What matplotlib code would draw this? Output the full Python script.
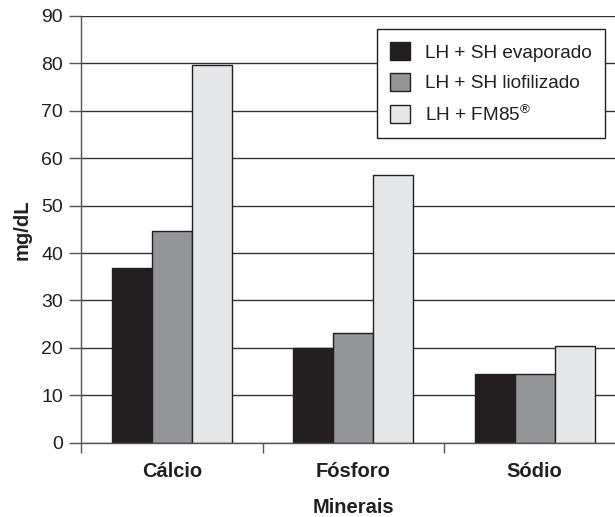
import numpy as np
import matplotlib
matplotlib.use("Agg")
import matplotlib.pyplot as plt

# valores (mg/dL)
minerais = ["Cálcio", "Fósforo", "Sódio"]
evaporado = [36.9, 20.0, 14.5]
liofilizado = [44.7, 23.2, 14.5]
fm85 = [79.6, 56.4, 20.4]
series_labels = ["LH + SH evaporado", "LH + SH liofilizado", r"LH + FM85$^{\circledR}$"]
y_ticks = list(range(0, 91, 10))

plt.rcParams["font.family"] = ["Liberation Sans", "DejaVu Sans"]
plt.rcParams["mathtext.fontset"] = "custom"
plt.rcParams["mathtext.rm"] = "Liberation Sans"

ink = "#231f20"
cores = ["#231f20", "#939598", "#e6e7e8"]

fig = plt.figure(figsize=(6.15, 5.17), dpi=100)
ax = fig.add_axes([81 / 615, 1 - 442.7 / 517, 544.5 / 615, 426.7 / 517])

x = np.arange(len(minerais)) + 0.5
w = 0.221
for i, (vals, cor, lab) in enumerate(zip([evaporado, liofilizado, fm85], cores, series_labels)):
    ax.bar(x + (i - 1) * w, vals, width=w, color=cor, edgecolor=ink,
           linewidth=1.0, label=lab, zorder=3)

ax.set_xlim(0, 3)
ax.set_ylim(0, 90)
ax.set_yticks(y_ticks)
ax.yaxis.grid(True, color="#333333", linewidth=1.0, zorder=0)
ax.tick_params(axis="y", direction="out", length=9, width=1, color="#555555",
               labelsize=14, labelcolor=ink, pad=4)

ax.set_xticks([0, 1, 2, 3])
ax.set_xticklabels([])
ax.tick_params(axis="x", which="major", direction="out", length=7, width=1, color="#555555")
ax.set_xticks(x, minor=True)
ax.set_xticklabels(minerais, minor=True, fontsize=14.5, fontweight="bold", color=ink)
ax.tick_params(axis="x", which="minor", length=0, pad=14)

for s in ["top", "right"]:
    ax.spines[s].set_visible(False)
for s in ["left", "bottom"]:
    ax.spines[s].set_color("#555555")
    ax.spines[s].set_linewidth(1.0)
    ax.spines[s].set_zorder(4)

ax.set_xlabel("Minerais", fontsize=14.5, fontweight="bold", color=ink, labelpad=12)
ax.set_ylabel("mg/dL", fontsize=14.5, fontweight="bold", color=ink, labelpad=7)

leg = ax.legend(loc="upper left", bbox_to_anchor=(377 / 615, 1 - 29 / 517),
                bbox_transform=fig.transFigure, borderaxespad=0, fancybox=False,
                framealpha=1, edgecolor=ink, fontsize=13.7, handlelength=1.05,
                handleheight=1.05, handletextpad=0.75, labelspacing=0.6,
                borderpad=0.7)
leg.get_frame().set_linewidth(1.0)
for t in leg.get_texts():
    t.set_color(ink)

fig.savefig("out.png", dpi=100)
